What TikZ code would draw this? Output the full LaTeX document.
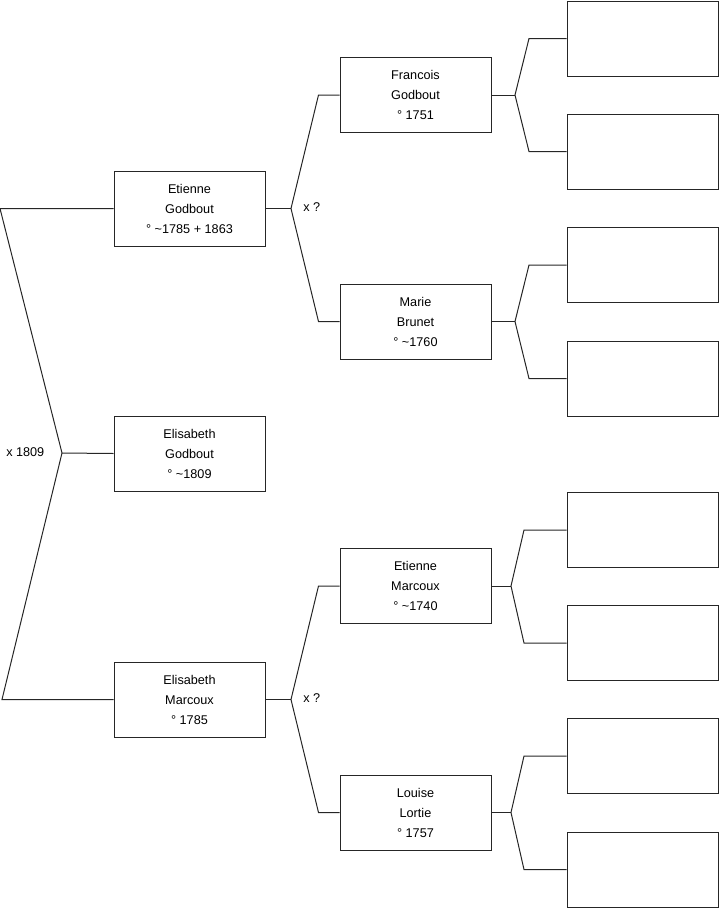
\documentclass[tikz,border=0pt]{standalone}
\usepackage{fontspec}
\setmainfont{Liberation Sans}
\usetikzlibrary{calc}
\begin{document}
\begin{tikzpicture}[
    x=0.75pt, y=-0.75pt,
    line/.style={draw=black!85, line width=0.75pt},
    person/.style={
        draw=black!85,
        line width=0.75pt,
        fill=white,
        minimum width=113.25pt,
        minimum height=56.25pt,
        inner sep=0pt,
        align=center,
        font=\fontsize{9.5}{15}\selectfont
    },
    union/.style={anchor=west, inner sep=0pt, font=\fontsize{9.5}{12}\selectfont}
]
    \useasboundingbox (0,0) rectangle (719,908);

    %------------------------------------------------
    % generation 1 and 2
    %------------------------------------------------
    \node[person] (etienneG)   at (189.5,208.5) {Etienne\\ Godbout\\ ° \textasciitilde1785 + 1863};
    \node[person] (elisabethG) at (189.5,453.5) {Elisabeth\\ Godbout\\ ° \textasciitilde1809};
    \node[person] (elisabethM) at (189.5,699.5) {Elisabeth\\ Marcoux\\ ° 1785};

    \coordinate (x0) at (62,453);
    \node[union] at (6,452) {x 1809};

    \draw[line] (etienneG.west) -- ++(-113.5,0) -- (x0) -- (2,699.5) -- (elisabethM.west);
    \draw[line] (x0) -- (elisabethG.west);

    %------------------------------------------------
    % generation 3
    %------------------------------------------------
    \node[person] (francoisG) at (415.5,95)    {Francois\\ Godbout\\ ° 1751};
    \node[person] (marieB)    at (415.5,321.5) {Marie\\ Brunet\\ ° \textasciitilde1760};
    \node[person] (etienneM)  at (415.5,586)   {Etienne\\ Marcoux\\ ° \textasciitilde1740};
    \node[person] (louiseL)   at (415.5,812.5) {Louise\\ Lortie\\ ° 1757};

    \coordinate (x1) at (291,208.5);
    \coordinate (x2) at (291,699.5);
    \node[union] at (303,207) {x ?};
    \node[union] at (303,698) {x ?};

    \draw[line] (etienneG.east) -- (x1);
    \draw[line] (francoisG.west) -- ++(-21,0) -- (x1) -- ($(marieB.west)+(-21,0)$) -- (marieB.west);
    \draw[line] (elisabethM.east) -- (x2);
    \draw[line] (etienneM.west) -- ++(-21,0) -- (x2) -- ($(louiseL.west)+(-21,0)$) -- (louiseL.west);

    %------------------------------------------------
    % generation 4 (unknown)
    %------------------------------------------------
    \node[person] (fg1) at (642.5,38.5)  {};
    \node[person] (fg2) at (642.5,151.5) {};
    \node[person] (mb1) at (642.5,265)   {};
    \node[person] (mb2) at (642.5,378.5) {};
    \node[person] (em1) at (642.5,530)   {};
    \node[person] (em2) at (642.5,643)   {};
    \node[person] (ll1) at (642.5,756)   {};
    \node[person] (ll2) at (642.5,869.5) {};

    \coordinate (x3) at (515,95);
    \coordinate (x4) at (515,321.5);
    \coordinate (x5) at (511,586);
    \coordinate (x6) at (511,812.5);

    \draw[line] (francoisG.east) -- (x3);
    \draw[line] (fg1.west) -- ++(-37.5,0) -- (x3) -- ($(fg2.west)+(-37.5,0)$) -- (fg2.west);
    \draw[line] (marieB.east) -- (x4);
    \draw[line] (mb1.west) -- ++(-37.5,0) -- (x4) -- ($(mb2.west)+(-37.5,0)$) -- (mb2.west);
    \draw[line] (etienneM.east) -- (x5);
    \draw[line] (em1.west) -- ++(-42.5,0) -- (x5) -- ($(em2.west)+(-42.5,0)$) -- (em2.west);
    \draw[line] (louiseL.east) -- (x6);
    \draw[line] (ll1.west) -- ++(-42.5,0) -- (x6) -- ($(ll2.west)+(-42.5,0)$) -- (ll2.west);

\end{tikzpicture}
\end{document}
